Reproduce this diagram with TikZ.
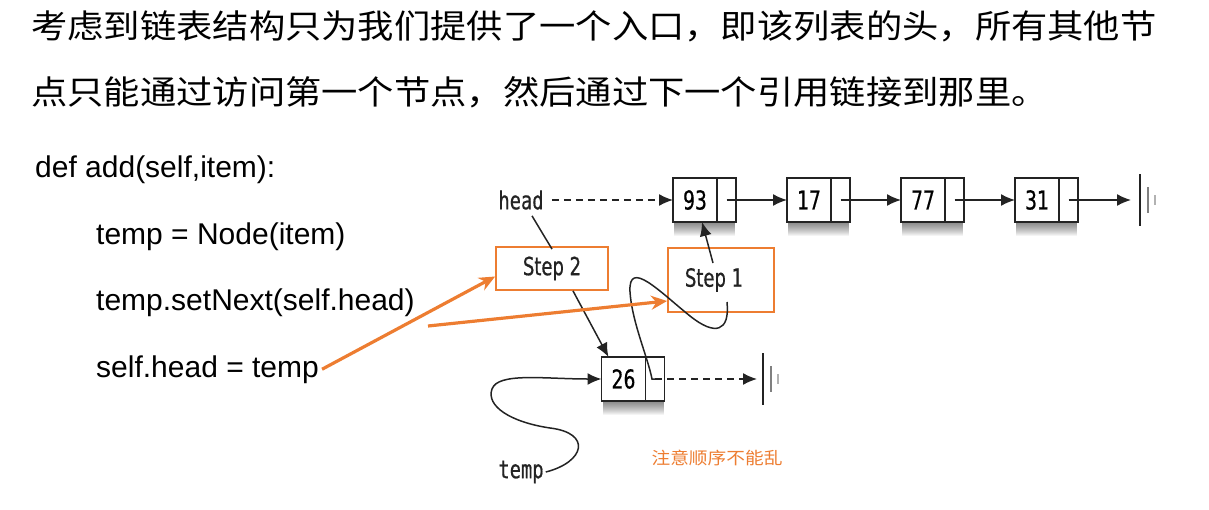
\documentclass[tikz,border=0pt]{standalone}
\usepackage{fontspec}
\setmainfont{Liberation Sans}
\newfontfamily\cjkfont[FakeStretch=1.1]{Noto Sans CJK SC}
\newfontfamily\figfont[FakeStretch=0.72,FakeBold=0.6]{DejaVu Sans}
\newfontfamily\ttfig[FakeStretch=0.75,FakeBold=0.6]{DejaVu Sans Mono}
\usetikzlibrary{positioning,arrows.meta,backgrounds}
\definecolor{hlorange}{RGB}{237,125,49}
\definecolor{inkgray}{RGB}{35,35,35}

% soft shadow under a list node (data cell #1, pointer cell #2)
\newcommand\cellshadow[2]{%
  \begin{scope}[on background layer]
    \foreach \d in {1,...,14}
      \fill[black, opacity=0.045] ([xshift=1pt,yshift=-\d pt]#1.south west) rectangle ([xshift=-1pt]#2.north east);
  \end{scope}}

\tikzset{
  datacell/.style={draw=inkgray, line width=1.4pt, fill=white,
    minimum width=44pt, minimum height=44pt, inner sep=0pt, outer sep=0pt,
    font=\figfont\fontsize{26}{26}\selectfont},
  ptrcell/.style={datacell, minimum width=19pt},
  link/.style={draw=inkgray, line width=1.5pt, -{Latex[length=14pt,width=12pt]}},
  dashlink/.style={link, dash pattern=on 7pt off 5pt},
  steplbl/.style={draw=hlorange, line width=1.8pt, inner sep=0pt,
    font=\figfont\fontsize{25}{25}\selectfont, text=inkgray},
  varlbl/.style={inner sep=2pt, font=\ttfig\fontsize{25}{25}\selectfont, text=inkgray},
  codeline/.style={anchor=base west, inner sep=0pt, font=\fontsize{30}{30}\selectfont},
  hint/.style={draw=hlorange, line width=3.2pt, -{Stealth[length=16pt,width=14pt]}},
  groundsym/.pic={
    \draw[inkgray, line width=1.5pt] (0,-26) -- (0,26);
    \draw[gray, line width=1.3pt] (8,-13) -- (8,13);
    \draw[gray!60, line width=1.2pt] (15,-5) -- (15,5);
  },
}

\begin{document}
\begin{tikzpicture}[x=1pt,y=-1pt]
  \useasboundingbox (0,0) rectangle (1209,509);

  % heading, two lines
  \node[anchor=base west, inner sep=0pt, font=\cjkfont\fontsize{33}{33}\selectfont] (title1) at (31,38)
    {考虑到链表结构只为我们提供了一个入口，即该列表的头，所有其他节};
  \node[anchor=base west, inner sep=0pt, font=\cjkfont\fontsize{33}{33}\selectfont] (title2) at (31,104)
    {点只能通过访问第一个节点，然后通过下一个引用链接到那里。};

  % code
  \node[codeline] (code1) at (35,177) {def add(self,item):};
  \node[codeline] (code2) at (96,244) {temp = Node(item)};
  \node[codeline] (code3) at (96,310.5) {temp.setNext(self.head)};
  \node[codeline] (code4) at (96,377) {self.head = temp};

  % the list
  \node[datacell] (n93) at (695,200) {93};
  \node[ptrcell, right=0pt of n93] (n93p) {};
  \node[datacell, right=51pt of n93p] (n17) {17};
  \node[ptrcell, right=0pt of n17] (n17p) {};
  \node[datacell, right=51pt of n17p] (n77) {77};
  \node[ptrcell, right=0pt of n77] (n77p) {};
  \node[datacell, right=51pt of n77p] (n31) {31};
  \node[ptrcell, right=0pt of n31] (n31p) {};
  \cellshadow{n93}{n93p}
  \cellshadow{n17}{n17p}
  \cellshadow{n77}{n77p}
  \cellshadow{n31}{n31p}
  \coordinate (end1) at (1131,200);
  \pic at (1140,200) {groundsym};

  \draw[link] (n93p.center) -- (n17.west);
  \draw[link] (n17p.center) -- (n77.west);
  \draw[link] (n77p.center) -- (n31.west);
  \draw[link] (n31p.center) -- (end1);

  % new node
  \node[datacell] (n26) at (623.5,379) {26};
  \node[ptrcell, right=0pt of n26] (n26p) {};
  \cellshadow{n26}{n26p}
  \coordinate (end2) at (757,379);
  \pic at (763,379) {groundsym};
  \draw[dashlink] (n26p.center) -- (end2);

  \node[varlbl] (head) at (521,200) {head};
  \node[varlbl] (temp) at (521,472) {temp};
  \draw[dashlink, shorten <=6pt] (head.east) -- (n93.west);

  % steps
  \node[steplbl, minimum width=112pt, minimum height=43pt] (s2) at (552,268.5) {Step 2};
  \node[steplbl, minimum width=106pt, minimum height=64pt] (s1) at (721,280) {\hspace*{-14pt}Step 1};

  \draw[inkgray, line width=1.5pt] ([xshift=11pt,yshift=-4pt]head.south) -- ([yshift=-3pt]s2.north);
  \draw[link] ([xshift=21pt]s2.south) -- ([xshift=7pt]n26.north west);
  \draw[link] ([xshift=-8pt,yshift=17pt]s1.center) -- ([xshift=7pt]n93.south);
  \draw[inkgray, line width=1.5pt] ([xshift=6pt,yshift=-22pt]s1.center)
    .. controls (730,332) and (715,336) .. (690,316)
    .. controls (660,292) and (628,258) .. (630,292)
    .. controls (632,322) and (648,358) .. ([xshift=-3pt]n26p.center)
    -- ([xshift=4pt]n26p.center);
  \draw[link] (temp.east)
    .. controls (585,462) and (592,433) .. (550,428)
    .. controls (510,422) and (486,406) .. (492,389)
    .. controls (498,372) and (545,379) .. (n26.west);

  % orange notes
  \coordinate (src2) at (428,326);
  \draw[hint] ([xshift=3pt]code4.east) -- ([yshift=-8pt]s2.west);
  \draw[hint] (src2) -- ([yshift=-21pt]s1.west);
  \node[text=hlorange, font=\cjkfont\fontsize{17}{17}\selectfont] (note) at (717,458) {注意顺序不能乱};
\end{tikzpicture}
\end{document}
